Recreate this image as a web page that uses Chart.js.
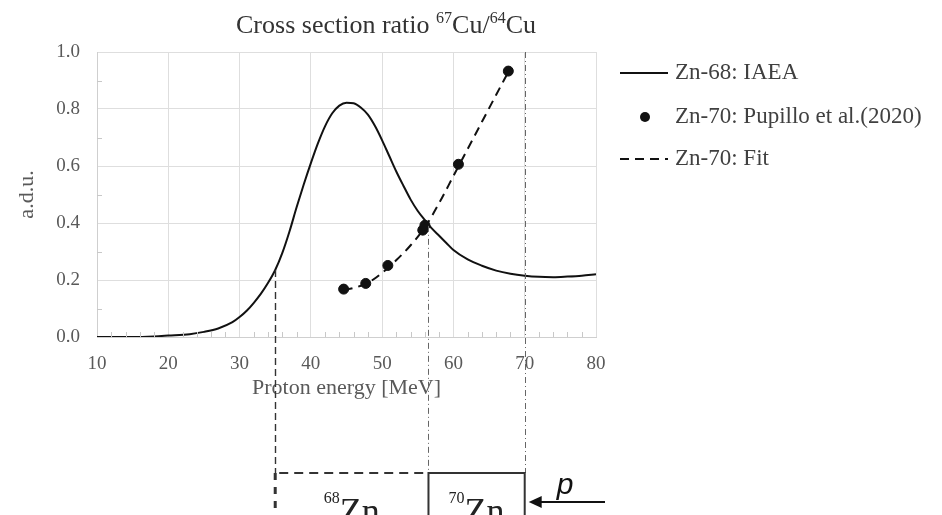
<!DOCTYPE html>
<html>
<head>
<meta charset="utf-8">
<script src="https://cdn.jsdelivr.net/npm/chart.js@4.4.1/dist/chart.umd.min.js"></script>
<style>
  html, body { margin: 0; padding: 0; background: #fff; }
  #wrap { width: 942px; height: 515px; }
</style>
</head>
<body>
<div id="wrap"><canvas id="chart"></canvas></div>
<script>
// Zn-68: IAEA ratio curve
const iaeaEnergy = [10, 15, 18, 20, 23, 25, 27, 29, 30, 31, 32, 33, 34, 35, 36, 37, 38, 39, 40, 41, 42, 43, 44, 45, 46, 47, 48, 49, 50, 51, 52, 53, 54, 55, 56, 57, 58, 59, 60, 62, 64, 66, 68, 70, 72, 74, 76, 78, 80];
const iaeaRatio = [0, 0, 0.002, 0.005, 0.01, 0.018, 0.03, 0.052, 0.07, 0.092, 0.12, 0.152, 0.19, 0.235, 0.295, 0.37, 0.455, 0.535, 0.61, 0.68, 0.74, 0.785, 0.812, 0.822, 0.82, 0.805, 0.78, 0.74, 0.69, 0.635, 0.58, 0.53, 0.482, 0.442, 0.41, 0.38, 0.355, 0.33, 0.305, 0.272, 0.25, 0.233, 0.222, 0.215, 0.211, 0.21, 0.212, 0.215, 0.22];

// Zn-70: Pupillo et al. (2020) measured points
const pupilloEnergy = [44.6, 47.7, 50.8, 55.7, 56.0, 60.7, 67.7];
const pupilloRatio = [0.168, 0.188, 0.251, 0.375, 0.392, 0.606, 0.933];

// Zn-70: fit
const fitEnergy = [44.6, 46, 48, 50, 52, 54, 56, 58, 60, 62, 64, 66, 67.7];
const fitRatio = [0.165, 0.172, 0.19, 0.225, 0.27, 0.322, 0.385, 0.47, 0.565, 0.66, 0.755, 0.85, 0.93];

const xTicks = [10, 20, 30, 40, 50, 60, 70, 80];
const yTicks = [0.0, 0.2, 0.4, 0.6, 0.8, 1.0];

// target layout sketch under the axis
const guideEnergy = [35, 56.5, 70];
const guideTop = [0.235, 0.39, 1.0];
const targetMass = ['68', '70'];
const targetFrom = [35, 56.5];
const targetTo = [56.5, 70];

const serif = "'Liberation Serif', 'DejaVu Serif', serif";
Chart.defaults.font.family = serif;

const toPts = (xs, ys) => xs.map((x, i) => ({x: x, y: ys[i]}));

// extra drawing: title, legend, minor ticks, target sketch
const figurePlugin = {
    id: 'figure',
    afterDraw(chart) {
        const ctx = chart.ctx;
        const xs = chart.scales.x, ys = chart.scales.y;
        const area = chart.chartArea;
        ctx.save();

        // minor ticks inside the plot
        ctx.strokeStyle = '#c8c8c8';
        ctx.lineWidth = 1;
        for (let v = 12; v < 80; v += 2) {
            if (v % 10 === 0) continue;
            const px = Math.round(xs.getPixelForValue(v)) + 0.5;
            ctx.beginPath(); ctx.moveTo(px, area.bottom); ctx.lineTo(px, area.bottom - 5); ctx.stroke();
        }
        for (let k = 1; k < 10; k += 2) {
            const py = Math.round(ys.getPixelForValue(k / 10)) + 0.5;
            ctx.beginPath(); ctx.moveTo(area.left, py); ctx.lineTo(area.left + 5, py); ctx.stroke();
        }

        // title with superscripts
        const parts = [['Cross section ratio ', 26, 0], ['67', 16, -10], ['Cu/', 26, 0], ['64', 16, -10], ['Cu', 26, 0]];
        let total = 0;
        parts.forEach(p => { ctx.font = p[1] + 'px ' + serif; total += ctx.measureText(p[0]).width; });
        let tx = 386 - total / 2;
        ctx.fillStyle = '#333';
        ctx.textBaseline = 'alphabetic';
        ctx.textAlign = 'left';
        parts.forEach(p => {
            ctx.font = p[1] + 'px ' + serif;
            ctx.fillText(p[0], tx, 33 + p[2]);
            tx += ctx.measureText(p[0]).width;
        });

        // legend
        const rows = [73, 117, 159];
        const order = [0, 1, 2];
        ctx.font = '23px ' + serif;
        ctx.textBaseline = 'middle';
        order.forEach((di, r) => {
            const ds = chart.data.datasets[di];
            const y = rows[r];
            ctx.strokeStyle = '#111';
            ctx.fillStyle = '#111';
            if (ds.showLine === false) {
                ctx.beginPath(); ctx.arc(645, y, 5, 0, Math.PI * 2); ctx.fill();
            } else {
                ctx.lineWidth = 2;
                ctx.setLineDash(ds.borderDash || []);
                ctx.beginPath(); ctx.moveTo(620, y); ctx.lineTo(668, y); ctx.stroke();
                ctx.setLineDash([]);
            }
            ctx.fillStyle = '#404040';
            ctx.fillText(ds.label, 675, y);
        });

        // guide lines down to the targets
        const boxTop = 473;
        guideEnergy.forEach((e, i) => {
            const px = Math.round(xs.getPixelForValue(e)) + 0.5;
            ctx.beginPath();
            if (i === 0) { ctx.strokeStyle = '#333'; ctx.lineWidth = 1.4; ctx.setLineDash([7, 4]); }
            else { ctx.strokeStyle = '#666'; ctx.lineWidth = 1; ctx.setLineDash([6, 3, 1, 3]); }
            ctx.moveTo(px, ys.getPixelForValue(guideTop[i]));
            ctx.lineTo(px, boxTop);
            ctx.stroke();
        });
        ctx.setLineDash([]);

        // 68Zn (dashed) and 70Zn (solid box)
        const x0 = xs.getPixelForValue(targetFrom[0]), x1 = xs.getPixelForValue(targetTo[0]);
        ctx.strokeStyle = '#333';
        ctx.lineWidth = 2;
        ctx.setLineDash([9, 6]);
        ctx.beginPath(); ctx.moveTo(x0 + 4, boxTop); ctx.lineTo(x1, boxTop); ctx.stroke();
        ctx.lineWidth = 3;
        ctx.setLineDash([7, 7]);
        ctx.beginPath(); ctx.moveTo(x0, boxTop); ctx.lineTo(x0, 520); ctx.stroke();
        ctx.setLineDash([]);
        const b0 = xs.getPixelForValue(targetFrom[1]), b1 = xs.getPixelForValue(targetTo[1]);
        ctx.lineWidth = 2;
        ctx.beginPath(); ctx.moveTo(b0, 520); ctx.lineTo(b0, boxTop); ctx.lineTo(b1, boxTop); ctx.lineTo(b1, 520); ctx.stroke();

        // target labels
        ctx.fillStyle = '#222';
        ctx.textBaseline = 'alphabetic';
        targetMass.forEach((m, i) => {
            const c = (xs.getPixelForValue(targetFrom[i]) + xs.getPixelForValue(targetTo[i])) / 2;
            ctx.font = '16px ' + serif; const w1 = ctx.measureText(m).width;
            ctx.font = '36px ' + serif; const w2 = ctx.measureText('Zn').width;
            let lx = c - (w1 + w2) / 2;
            ctx.font = '16px ' + serif; ctx.fillText(m, lx, 503);
            ctx.font = '36px ' + serif; ctx.fillText('Zn', lx + w1, 523);
        });

        // proton beam arrow
        const ax = b1 + 4;
        ctx.strokeStyle = '#111';
        ctx.fillStyle = '#111';
        ctx.lineWidth = 2;
        ctx.beginPath(); ctx.moveTo(ax + 8, 502); ctx.lineTo(605, 502); ctx.stroke();
        ctx.beginPath(); ctx.moveTo(ax, 502); ctx.lineTo(ax + 13, 496); ctx.lineTo(ax + 13, 508); ctx.closePath(); ctx.fill();
        ctx.font = 'italic 30px "Liberation Sans", Arial, sans-serif';
        ctx.textAlign = 'center';
        ctx.fillText('p', 565, 494);

        ctx.restore();
    }
};

new Chart(document.getElementById('chart'), {
    type: 'scatter',
    data: {
        datasets: [{
            label: 'Zn-68: IAEA',
            data: toPts(iaeaEnergy, iaeaRatio),
            showLine: true,
            borderColor: '#111',
            borderWidth: 2,
            pointRadius: 0,
            cubicInterpolationMode: 'monotone',
            order: 2
        }, {
            label: 'Zn-70: Pupillo et al.(2020)',
            data: toPts(pupilloEnergy, pupilloRatio),
            showLine: false,
            backgroundColor: '#111',
            borderColor: '#111',
            pointRadius: 5,
            order: 0
        }, {
            label: 'Zn-70: Fit',
            data: toPts(fitEnergy, fitRatio),
            showLine: true,
            borderColor: '#111',
            borderWidth: 2,
            borderDash: [9, 6],
            pointRadius: 0,
            cubicInterpolationMode: 'monotone',
            order: 1
        }]
    },
    options: {
        responsive: true,
        maintainAspectRatio: false,
        animation: false,
        layout: { padding: { left: 0, top: 52, right: 346, bottom: 0 } },
        plugins: { legend: { display: false }, tooltip: { enabled: false } },
        scales: {
            x: {
                type: 'linear', min: 10, max: 80,
                afterFit: (s) => { s.height = 178; },
                afterBuildTicks: (s) => { s.ticks = xTicks.map(v => ({value: v})); },
                grid: { color: '#dedede', drawTicks: false },
                border: { color: '#cfcfcf' },
                ticks: { color: '#595959', font: { size: 19 }, padding: 16 },
                title: { display: true, text: 'Proton energy [MeV]', color: '#595959', font: { size: 22 }, padding: { top: 0, bottom: 113.8 } }
            },
            y: {
                min: 0, max: 1,
                afterFit: (s) => { s.width = 97; },
                afterBuildTicks: (s) => { s.ticks = yTicks.map(v => ({value: v})); },
                grid: { color: '#dedede', drawTicks: false },
                border: { color: '#cfcfcf' },
                ticks: { color: '#595959', font: { size: 19 }, padding: 17, callback: (v) => Number(v).toFixed(1) },
                title: { display: true, text: 'a.d.u.', color: '#595959', font: { size: 22 }, padding: { top: 13.8, bottom: 0 } }
            }
        }
    },
    plugins: [figurePlugin]
});
</script>
</body>
</html>
